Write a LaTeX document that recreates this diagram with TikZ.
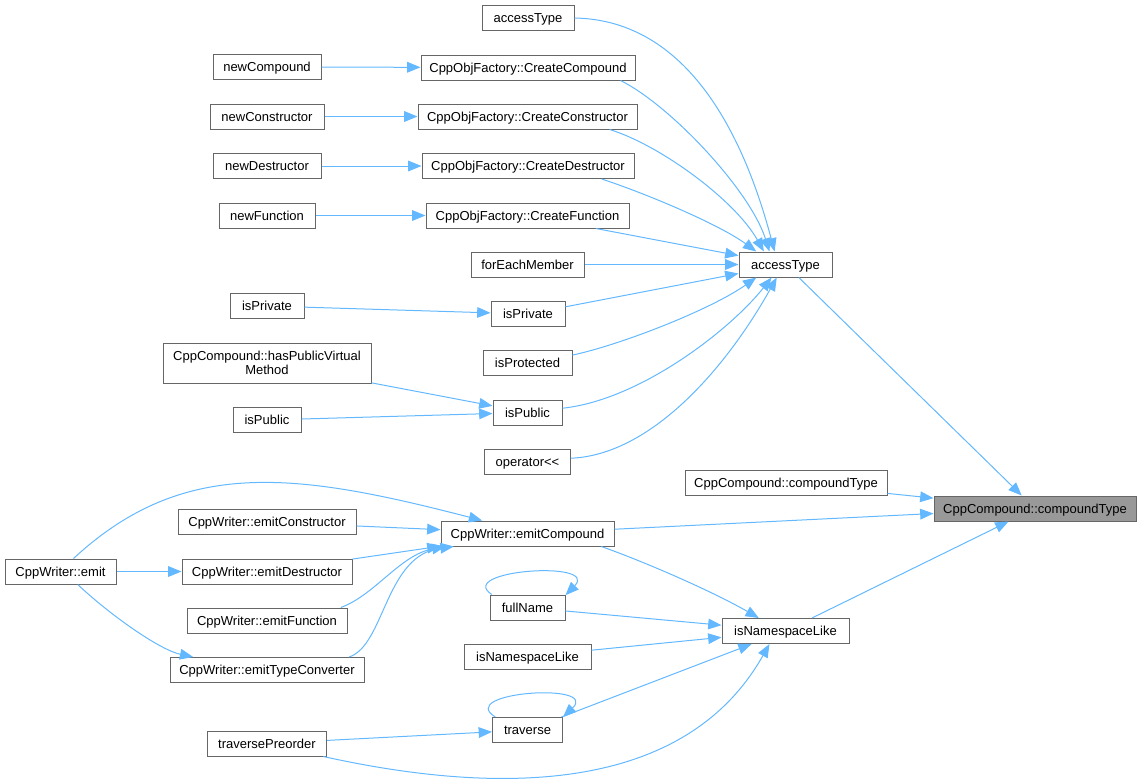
\documentclass[tikz,border=0pt]{standalone}
\usepackage{fontspec}
\setmainfont{Liberation Sans}
\usepackage{tikz}
\usetikzlibrary{arrows.meta}
\definecolor{edgeblue}{HTML}{63B8FF}
\definecolor{boxgray}{HTML}{666666}
\definecolor{hlgray}{HTML}{999999}

\begin{document}
\begin{tikzpicture}[x=0.75pt, y=0.75pt,
    every node/.style={draw=boxgray, fill=white, line width=0.75pt, inner sep=0pt,
      minimum height=18.75pt, text height=9pt, text depth=2pt, font=\fontsize{9.75}{11}\selectfont},
    w/.style={minimum width=#1*0.75pt},
    call/.style={draw=edgeblue, line width=0.75pt, -{Triangle[length=10pt,width=8pt]}}]
     \useasboundingbox (0,0) rectangle (1141,-783);

     \node[w=92] (aT0) at (528,-18) {accessType};
     \node[w=214] (cCompound) at (528,-67.5) {CppObjFactory::CreateCompound};
     \node[w=219] (cCtor) at (527.5,-116.5) {CppObjFactory::CreateConstructor};
     \node[w=212] (cDtor) at (528,-166) {CppObjFactory::CreateDestructor};
     \node[w=203] (cFunc) at (527.5,-215.5) {CppObjFactory::CreateFunction};
     \node[w=113] (forEach) at (527.5,-264.5) {forEachMember};
     \node[w=93] (access) at (785.5,-264.5) {accessType};
     \node[w=108] (newCompound) at (267,-67) {newCompound};
     \node[w=114] (newCtor) at (267,-116.5) {newConstructor};
     \node[w=108] (newDtor) at (267,-166) {newDestructor};
     \node[w=96] (newFunc) at (267,-215.5) {newFunction};
     \node[w=74] (isPrivL) at (267,-306) {isPrivate};
     \node[w=208, minimum height=30pt, text height={}, text depth={}, align=center] (hasPVM) at (267,-363) {CppCompound::hasPublicVirtual\\Method};
     \node[w=68] (isPubL) at (267,-420) {isPublic};
     \node[w=74] (isPriv) at (528,-314) {isPrivate};
     \node[w=89] (isProt) at (527.5,-363) {isProtected};
     \node[w=69] (isPub) at (527.5,-412.5) {isPublic};
     \node[w=86] (opLL) at (527.5,-462) {operator<{}<};
     \node[w=202] (cTypeL) at (786,-483) {CppCompound::compoundType};
     \node[w=202, fill=hlgray] (cType) at (1035,-508.5) {CppCompound::compoundType};
     \node[w=111] (emit) at (60.5,-571.5) {CppWriter::emit};
     \node[w=178] (emitCtor) at (267,-522) {CppWriter::emitConstructor};
     \node[w=170] (emitDtor) at (267,-571.5) {CppWriter::emitDestructor};
     \node[w=160] (emitFunc) at (267,-620.5) {CppWriter::emitFunction};
     \node[w=194] (emitTC) at (267,-670) {CppWriter::emitTypeConverter};
     \node[w=119] (travPre) at (267,-743.5) {traversePreorder};
     \node[w=173] (emitComp) at (527.5,-533.5) {CppWriter::emitCompound};
     \node[w=75] (fullName) at (527.5,-607.5) {fullName};
     \node[w=127] (isNSL) at (527.5,-656.5) {isNamespaceLike};
     \node[w=70] (traverse) at (527.5,-730) {traverse};
     \node[w=127] (isNS) at (785.5,-631) {isNamespaceLike};

     \draw[call] (newCompound) -- (cCompound);
     \draw[call] (newCtor) -- (cCtor);
     \draw[call] (newDtor) -- (cDtor);
     \draw[call] (newFunc) -- (cFunc);
     \draw[call] (aT0.east) .. controls (690,-20) and (745,-140) .. (access.130);
     \draw[call] (cCompound.-8) .. controls (670,-105) and (750,-190) .. (access.141);
     \draw[call] (cCtor.-9) .. controls (660,-145) and (735,-200) .. (access.149);
     \draw[call] (cDtor.-10) .. controls (650,-195) and (720,-225) .. (access.156);
     \draw[call] (cFunc) -- (access);
     \draw[call] (forEach) -- (access);
     \draw[call] (isPriv) -- (access);
     \draw[call] (isProt.10) .. controls (620,-345) and (710,-310) .. (access.204);
     \draw[call] (isPub.7) .. controls (640,-400) and (730,-330) .. (access.223);
     \draw[call] (opLL.5) .. controls (650,-455) and (725,-370) .. (access.236);
     \draw[call] (isPrivL) -- (isPriv);
     \draw[call] (hasPVM) -- (isPub);
     \draw[call] (isPubL) -- (isPub);
     \draw[call] (access) -- (cType);
     \draw[call] (cTypeL) -- (cType);
     \draw[call] (emitComp) -- (cType);
     \draw[call] (isNS) -- (cType);
     \draw[call] (emit.45) .. controls (183,-457) and (295,-472) .. (emitComp.164);
     \draw[call] (emitCtor) -- (emitComp);
     \draw[call] (emitDtor) -- (emitComp);
     \draw[call] (emitFunc.10) .. controls (375,-595) and (400,-555) .. (emitComp.189);
     \draw[call] (emitTC.9) .. controls (385,-645) and (385,-555) .. (emitComp.190);
     \draw[call] (emit) -- (emitDtor);
     \draw[call] (emit.-37) .. controls (110,-615) and (160,-650) .. (emitTC.170);
     \draw[call] (emitComp.-10) .. controls (640,-560) and (710,-590) .. (isNS.154);
     \draw[call] (fullName.160) .. controls (455,-570) and (600,-560) .. (fullName.18);
     \draw[call] (fullName) -- (isNS);
     \draw[call] (isNSL) -- (isNS);
     \draw[call] (traverse.158) .. controls (455,-692) and (600,-682) .. (traverse.20);
     \draw[call] (traverse) -- (isNS);
     \draw[call] (travPre) -- (traverse);
     \draw[call] (travPre.-13) .. controls (520,-800) and (690,-785) .. (isNS.219);
    \end{tikzpicture}
\end{document}
